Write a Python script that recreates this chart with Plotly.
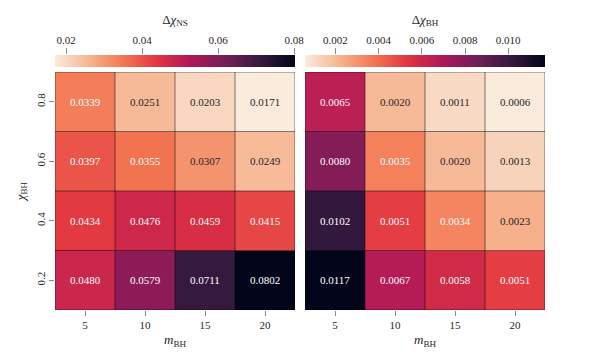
import plotly.graph_objects as go

m_bh = [5, 10, 15, 20]
chi_bh = [0.2, 0.4, 0.6, 0.8]

# rows: chi_bh = 0.2, 0.4, 0.6, 0.8 ; columns: m_bh = 5, 10, 15, 20
d_chi_ns = [
    [0.0480, 0.0579, 0.0711, 0.0802],
    [0.0434, 0.0476, 0.0459, 0.0415],
    [0.0397, 0.0355, 0.0307, 0.0249],
    [0.0339, 0.0251, 0.0203, 0.0171],
]
d_chi_bh = [
    [0.0117, 0.0067, 0.0058, 0.0051],
    [0.0102, 0.0051, 0.0034, 0.0023],
    [0.0080, 0.0035, 0.0020, 0.0013],
    [0.0065, 0.0020, 0.0011, 0.0006],
]
cb_ticks_ns = [0.02, 0.04, 0.06, 0.08]
cb_ticks_bh = [0.002, 0.004, 0.006, 0.008, 0.010]

# seaborn "rocket_r"
rocket_r_hex = ["#faebdd", "#f6b48f", "#f37651", "#e13342", "#ad1759",
                "#701f57", "#35193e", "#03051a"]
n = len(rocket_r_hex)
colorscale = [[i / (n - 1), c] for i, c in enumerate(rocket_r_hex)]


def hex2rgb(h):
    h = h.lstrip("#")
    return [int(h[i:i + 2], 16) / 255 for i in (0, 2, 4)]


def cmap(t):
    t = min(max(t, 0), 1)
    pos = t * (n - 1)
    i = min(int(pos), n - 2)
    f = pos - i
    a, b = hex2rgb(rocket_r_hex[i]), hex2rgb(rocket_r_hex[i + 1])
    return [a[k] + (b[k] - a[k]) * f for k in range(3)]


def luminance(rgb):
    lin = [c / 12.92 if c <= 0.03928 else ((c + 0.055) / 1.055) ** 2.4 for c in rgb]
    return 0.2126 * lin[0] + 0.7152 * lin[1] + 0.0722 * lin[2]


FONT = "Liberation Serif"
TXT = "#262626"
TICKC = "#888888"

# pixel layout
W, H = 600, 360
L, R, T, B = 55, 55, 55, 50          # plot area = heatmaps + colorbars
PW, PH = W - L - R, H - T - B        # 490 x 255
HM_TOP = 72                          # top of heatmaps (px)
CB_H = 12                            # colorbar thickness (px)
GAP = 10                             # gap between panels (px)
panel_w = (PW - GAP) / 2

hm_dom_y = [0, (H - B - HM_TOP) / PH]
cb_dom_y = [1 - CB_H / PH, 1]
x_doms = [[0, panel_w / PW], [(panel_w + GAP) / PW, 1]]

fig = go.Figure()
annotations = []
shapes = []

panels = [
    (d_chi_ns, "Δ<i>χ</i><sub>NS</sub>", cb_ticks_ns, ".2f"),
    (d_chi_bh, "Δ<i>χ</i><sub>BH</sub>", cb_ticks_bh, ".3f"),
]

layout_axes = {}
for p, (z, title, cticks, cfmt) in enumerate(panels):
    xa, ya = ("x", "y") if p == 0 else ("x2", "y2")
    xc, yc = f"x{p + 3}", f"y{p + 3}"
    flat = [v for row in z for v in row]
    zmin, zmax = min(flat), max(flat)
    fig.add_trace(go.Heatmap(
        z=z, x=list(range(len(m_bh))), y=list(range(len(chi_bh))),
        xaxis=xa, yaxis=ya, colorscale=colorscale, zmin=zmin, zmax=zmax,
        hoverinfo="skip",
        colorbar=dict(
            orientation="h", x=x_doms[p][0], xanchor="left",
            y=cb_dom_y[0], yanchor="bottom",
            lenmode="pixels", len=panel_w, thickness=CB_H, xpad=0, ypad=0,
            outlinewidth=0, showticklabels=False, ticks="",
        ),
    ))
    # invisible trace so the colorbar tick axis is drawn
    fig.add_trace(go.Scatter(
        x=[zmin, zmax], y=[0.5, 0.5], xaxis=xc, yaxis=yc, mode="markers",
        marker=dict(opacity=0), hoverinfo="skip", showlegend=False,
    ))
    layout_axes[f"xaxis{p + 3}"] = dict(
        domain=x_doms[p], anchor=yc, side="top", range=[zmin, zmax],
        tickvals=cticks, tickformat=cfmt, ticks="outside", ticklen=6,
        tickcolor=TICKC, showgrid=False, zeroline=False, showline=False,
        automargin=False, fixedrange=True,
        tickfont=dict(family=FONT, size=11, color=TXT),
        title=dict(text=title, font=dict(family=FONT, size=13, color=TXT), standoff=6),
    )
    layout_axes[f"yaxis{p + 3}"] = dict(
        domain=cb_dom_y, anchor=xc, range=[0, 1], visible=False, fixedrange=True,
    )
    for r, row in enumerate(z):
        for c, v in enumerate(row):
            col = cmap((v - zmin) / (zmax - zmin))
            tc = TXT if luminance(col) > 0.408 else "#ffffff"
            annotations.append(dict(
                x=c, y=r, xref=xa, yref=ya, text=f"{v:.4f}", showarrow=False,
                font=dict(family=FONT, size=11, color=tc)))
    for k in range(len(m_bh) + 1):
        shapes.append(dict(type="line", xref=xa, yref=ya, x0=k - 0.5, x1=k - 0.5,
                           y0=-0.5, y1=len(chi_bh) - 0.5,
                           line=dict(color="rgba(0,0,0,0.5)", width=1)))
    for k in range(len(chi_bh) + 1):
        shapes.append(dict(type="line", xref=xa, yref=ya, y0=k - 0.5, y1=k - 0.5,
                           x0=-0.5, x1=len(m_bh) - 0.5,
                           line=dict(color="rgba(0,0,0,0.5)", width=1)))

xcommon = dict(
    tickvals=list(range(len(m_bh))), ticktext=[str(v) for v in m_bh],
    range=[-0.5, len(m_bh) - 0.5], ticks="outside", ticklen=5, tickcolor=TICKC,
    showgrid=False, zeroline=False, automargin=False,
    tickfont=dict(family=FONT, size=11, color=TXT),
    title=dict(text="<i>m</i><sub>BH</sub>", font=dict(family=FONT, size=13, color=TXT),
               standoff=4),
)
ycommon = dict(
    tickvals=list(range(len(chi_bh))), ticktext=[str(v) for v in chi_bh],
    range=[-0.5, len(chi_bh) - 0.5], showgrid=False, zeroline=False, automargin=False,
)

fig.update_layout(
    width=W, height=H,
    margin=dict(l=L, r=R, t=T, b=B, autoexpand=False),
    paper_bgcolor="white", plot_bgcolor="white",
    showlegend=False,
    font=dict(family=FONT, color=TXT),
    xaxis=dict(domain=x_doms[0], anchor="y", **xcommon),
    xaxis2=dict(domain=x_doms[1], anchor="y2", **xcommon),
    yaxis=dict(domain=hm_dom_y, anchor="x", ticks="outside", ticklen=5, tickcolor=TICKC,
               tickangle=-90, tickfont=dict(family=FONT, size=11, color=TXT),
               title=dict(text="<i>χ</i><sub>BH</sub>",
                          font=dict(family=FONT, size=13, color=TXT), standoff=6),
               **ycommon),
    yaxis2=dict(domain=hm_dom_y, anchor="x2", showticklabels=False, ticks="", **ycommon),
    annotations=annotations,
    shapes=shapes,
    **layout_axes,
)

fig.write_html("out.html", config={"displayModeBar": False},
               post_script="document.body.style.margin='0';")
